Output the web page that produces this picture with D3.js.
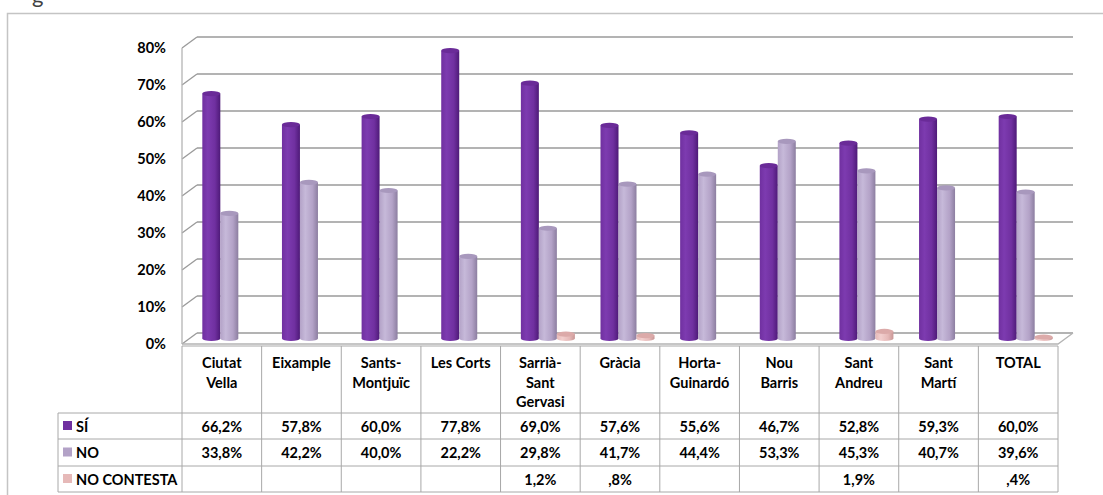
<!DOCTYPE html>
<html>
<head>
<meta charset="utf-8">
<script src="https://cdn.jsdelivr.net/npm/d3@7"></script>
<style>
  html, body { margin: 0; padding: 0; background: #fff; }
  svg { display: block; }
  text { font-family: Lato, "Open Sans", sans-serif; fill: #000; }
</style>
</head>
<body>
<script>
// data
const categories = ['Ciutat\nVella', 'Eixample', 'Sants-\nMontjuïc', 'Les Corts', 'Sarrià-\nSant\nGervasi',
    'Gràcia', 'Horta-\nGuinardó', 'Nou\nBarris', 'Sant\nAndreu', 'Sant\nMartí', 'TOTAL'];
const seriesNames = ['SÍ', 'NO', 'NO CONTESTA'];
const siValues = [66.2, 57.8, 60.0, 77.8, 69.0, 57.6, 55.6, 46.7, 52.8, 59.3, 60.0];
const noValues = [33.8, 42.2, 40.0, 22.2, 29.8, 41.7, 44.4, 53.3, 45.3, 40.7, 39.6];
const ncValues = [null, null, null, null, 1.2, 0.8, null, null, 1.9, null, 0.4];
const yTicks = [0, 10, 20, 30, 40, 50, 60, 70, 80];

const seriesValues = [siValues, noValues, ncValues];
const colors = [
    {base: '#7030a0', light: '#7d3bb0', dark: '#4e1a78', top: '#6a2b98'},
    {base: '#b3a2c7', light: '#c6b9d9', dark: '#8c7ea0', top: '#a898bd'},
    {base: '#e6b9b8', light: '#f2cfce', dark: '#c99796', top: '#dcaaa9'}
];

const W = 1103, H = 495;
const DX = 15, DY = -11;   // depth of the 3d box
const FS = 14.5;

const svg = d3.select('body').append('svg').attr('width', W).attr('height', H);

const defs = svg.append('defs');
colors.forEach((c, i) => {
    const g = defs.append('linearGradient').attr('id', 'cyl' + i)
        .attr('x1', 0).attr('x2', 1).attr('y1', 0).attr('y2', 0);
    g.append('stop').attr('offset', '0%').attr('stop-color', c.base);
    g.append('stop').attr('offset', '30%').attr('stop-color', c.light);
    g.append('stop').attr('offset', '70%').attr('stop-color', c.base);
    g.append('stop').attr('offset', '100%').attr('stop-color', c.dark);
});

// outer frame (cut by the window)
svg.append('path').attr('d', 'M7.5,500 V13.5 H1110')
    .attr('fill', 'none').attr('stroke', '#c4c4c4').attr('stroke-width', 1.5);
svg.append('text').attr('x', 32).attr('y', 3).attr('font-size', 22)
    .style('font-family', 'Lato, sans-serif').style('fill', '#404040').text('g');

// scales
const x = d3.scaleBand().domain(categories).range([182, 1058]);
const y = d3.scaleLinear().domain([0, 80]).range([344, 48]);
const xs = d3.scaleBand().domain(seriesNames).range([0, 54]);

const grid = svg.append('g').attr('stroke', '#9a9a9a').attr('stroke-width', 1.3).attr('fill', 'none');
yTicks.forEach(v => {
    const yy = y(v);
    grid.append('line').attr('x1', 182 + DX).attr('x2', 1058 + DX).attr('y1', yy + DY).attr('y2', yy + DY);
    grid.append('line').attr('x1', 182).attr('x2', 182 + DX).attr('y1', yy).attr('y2', yy + DY);
});
grid.append('line').attr('x1', 182).attr('x2', 182).attr('y1', y(80)).attr('y2', y(0)).attr('stroke', '#b4b4b4');
grid.append('path')
    .attr('d', `M182,${y(0)} H1058 L${1058 + DX},${y(0) + DY}`)
    .attr('stroke', '#b4b4b4');

// y labels
svg.append('g').selectAll('text').data(yTicks).join('text')
    .attr('x', 166).attr('y', d => y(d) + 5)
    .attr('text-anchor', 'end').attr('font-size', FS).attr('font-weight', 'bold')
    .text(d => d + '%');

// cylinders, drawn at half depth
const offX = (x.bandwidth() - 54) / 2 + DX / 2;
const offY = DY / 2;
const rx = xs.bandwidth() / 2, ry = 2.6;
const bars = svg.append('g');
categories.forEach((cat, ci) => {
    seriesNames.forEach((s, si) => {
        const v = seriesValues[si][ci];
        if (v == null) return;
        const x0 = x(cat) + offX + xs(s);
        const yTop = y(v) + offY, yBase = y(0) + offY;
        const g = bars.append('g');
        g.append('ellipse').attr('cx', x0 + rx).attr('cy', yBase).attr('rx', rx).attr('ry', ry)
            .attr('fill', `url(#cyl${si})`);
        g.append('rect').attr('x', x0).attr('y', yTop).attr('width', xs.bandwidth()).attr('height', yBase - yTop)
            .attr('fill', `url(#cyl${si})`);
        g.append('ellipse').attr('cx', x0 + rx).attr('cy', yTop).attr('rx', rx).attr('ry', ry)
            .attr('fill', colors[si].top);
    });
});

// data table
const rowTops = [346, 413, 439, 466, 492];
const table = svg.append('g').attr('stroke', '#a8a8a8').attr('stroke-width', 1).attr('fill', 'none');
table.append('line').attr('x1', 182).attr('x2', 1058).attr('y1', rowTops[0]).attr('y2', rowTops[0]);
rowTops.slice(1).forEach(ry0 => {
    table.append('line').attr('x1', 58).attr('x2', 1058).attr('y1', ry0).attr('y2', ry0);
});
table.append('line').attr('x1', 58).attr('x2', 58).attr('y1', rowTops[1]).attr('y2', rowTops[4]);
categories.forEach(cat => {
    table.append('line').attr('x1', x(cat)).attr('x2', x(cat)).attr('y1', rowTops[0]).attr('y2', rowTops[4]);
});
table.append('line').attr('x1', 1058).attr('x2', 1058).attr('y1', rowTops[0]).attr('y2', rowTops[4]);

const header = svg.append('g').attr('font-size', FS).attr('font-weight', 'bold').attr('text-anchor', 'middle');
categories.forEach(cat => {
    const t = header.append('text').attr('x', x(cat) + x.bandwidth() / 2).attr('y', 368);
    cat.split('\n').forEach((line, li) => {
        t.append('tspan').attr('x', x(cat) + x.bandwidth() / 2).attr('dy', li === 0 ? 0 : 19.5).text(line);
    });
});

const fmt = v => v.toFixed(1).replace('.', ',').replace(/^0/, '') + '%';
const cells = svg.append('g').attr('font-size', FS).attr('font-weight', 'bold');
seriesNames.forEach((s, si) => {
    const mid = (rowTops[si + 1] + rowTops[si + 2]) / 2;
    cells.append('rect').attr('x', 63).attr('y', mid - 5).attr('width', 9).attr('height', 9)
        .attr('fill', colors[si].base);
    cells.append('text').attr('x', 76).attr('y', mid + 5.5).text(s);
    categories.forEach((cat, ci) => {
        const v = seriesValues[si][ci];
        if (v == null) return;
        cells.append('text').attr('x', x(cat) + x.bandwidth() / 2).attr('y', mid + 5.5)
            .attr('text-anchor', 'middle').text(fmt(v));
    });
});
</script>
</body>
</html>
